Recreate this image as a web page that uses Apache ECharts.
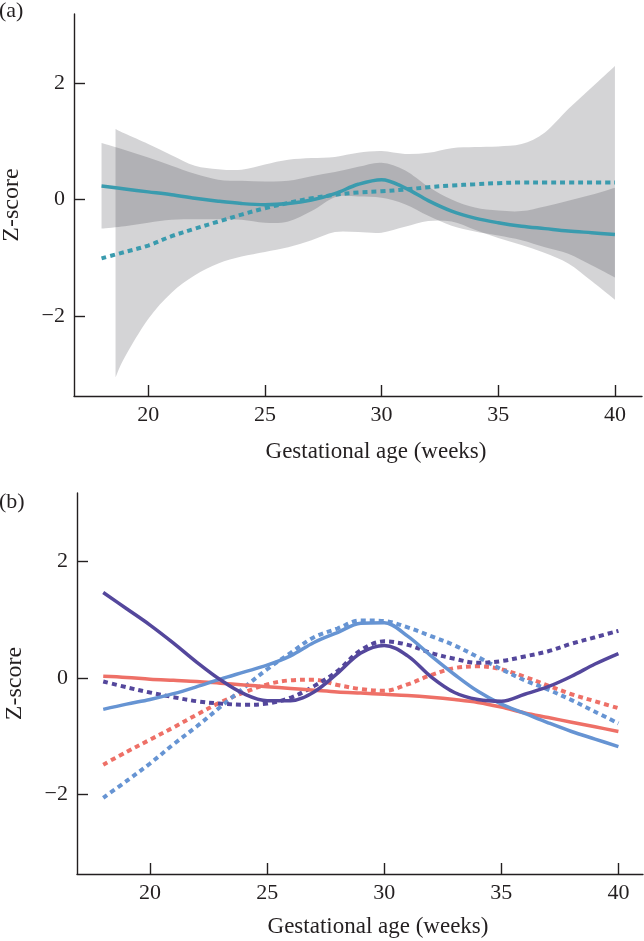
<!DOCTYPE html>
<html>
<head>
<meta charset="utf-8">
<script src="https://cdn.jsdelivr.net/npm/echarts@6/dist/echarts.min.js"></script>
<style>
html,body{margin:0;padding:0;background:#fff;}
#chart{width:644px;height:941px;}
</style>
</head>
<body>
<div id="chart"></div>
<script>
// ---------- DATA ----------
const weeks = [18,19,20,21,22,23,24,25,26,27,28,29,30,31,32,33,34,35,36,37,38,39,40];
const xTicks = [20,25,30,35,40];
const yTicks = [-2,0,2];

// Panel (a)
const aSolid  = [0.23,0.18,0.13,0.08,0.02,-0.03,-0.07,-0.09,-0.07,-0.01,0.10,0.26,0.34,0.20,-0.02,-0.20,-0.32,-0.40,-0.46,-0.50,-0.54,-0.57,-0.60];
const aDotted = [-1.01,-0.90,-0.79,-0.63,-0.50,-0.38,-0.26,-0.15,-0.06,0.02,0.08,0.12,0.14,0.17,0.21,0.24,0.26,0.28,0.29,0.29,0.29,0.29,0.29];

// CI band of solid line (a)
const bandSolidX   = [18,19,20,21,22,23,24,25,26,27,28,29,30,31,32,33,34,35,36,37,38,39,40];
const bandSolidLo  = [-0.50,-0.46,-0.40,-0.35,-0.34,-0.34,-0.35,-0.40,-0.38,-0.20,0.04,0.05,0.03,-0.08,-0.28,-0.45,-0.55,-0.62,-0.70,-0.82,-0.93,-1.13,-1.34];
const bandSolidHi  = [0.97,0.85,0.72,0.58,0.44,0.34,0.32,0.31,0.32,0.40,0.47,0.56,0.63,0.50,0.22,0.00,-0.14,-0.19,-0.20,-0.12,-0.02,0.08,0.20];
// CI band of dotted line (a)
const bandDotX  = [18.6,19,20,21,22,23,24,25,26,27,28,29,30,31,32,33,34,35,36,37,38,39,40];
const bandDotLo = [-3.05,-2.70,-2.05,-1.60,-1.30,-1.10,-0.98,-0.90,-0.82,-0.70,-0.56,-0.56,-0.57,-0.47,-0.37,-0.38,-0.52,-0.66,-0.78,-0.92,-1.10,-1.40,-1.72];
const bandDotHi = [1.21,1.13,0.95,0.76,0.58,0.52,0.51,0.60,0.68,0.71,0.73,0.80,0.83,0.78,0.80,0.88,0.90,0.91,0.95,1.15,1.55,1.92,2.29];

// Panel (b)
const purpleSolid  = [1.47,1.19,0.91,0.60,0.27,-0.03,-0.27,-0.39,-0.39,-0.24,0.08,0.43,0.56,0.38,0.02,-0.25,-0.37,-0.40,-0.28,-0.15,0.03,0.24,0.42];
const purpleDotted = [-0.06,-0.16,-0.25,-0.33,-0.40,-0.44,-0.46,-0.44,-0.34,-0.14,0.12,0.48,0.63,0.57,0.43,0.33,0.26,0.29,0.37,0.46,0.59,0.70,0.81];
const blueSolid    = [-0.54,-0.45,-0.37,-0.27,-0.15,-0.02,0.10,0.22,0.38,0.61,0.78,0.94,0.95,0.72,0.38,0.06,-0.23,-0.45,-0.61,-0.77,-0.92,-1.05,-1.18];
const blueDotted   = [-2.06,-1.77,-1.47,-1.14,-0.83,-0.50,-0.17,0.15,0.43,0.70,0.85,0.99,0.98,0.87,0.72,0.56,0.36,0.15,-0.04,-0.20,-0.38,-0.58,-0.78];
const salmonSolid  = [0.03,0.01,-0.02,-0.04,-0.06,-0.09,-0.12,-0.15,-0.18,-0.21,-0.24,-0.26,-0.28,-0.30,-0.33,-0.37,-0.42,-0.50,-0.60,-0.68,-0.76,-0.84,-0.92];
const salmonDotted = [-1.49,-1.27,-1.06,-0.85,-0.63,-0.42,-0.25,-0.11,-0.04,-0.03,-0.12,-0.19,-0.22,-0.11,0.05,0.17,0.20,0.15,0.02,-0.13,-0.28,-0.40,-0.52];

// ---------- STYLE ----------
const FONT = 'Liberation Serif';
const INK = '#231f20';
const TEAL = '#3a9bae';
const PURPLE = '#54479c';
const BLUE = '#6694d3';
const SALMON = '#ee7067';
const BAND = 'rgba(40,40,48,0.2)';

const pairs = (xs, ys) => xs.map((x, i) => [x, ys[i]]);
const minus = v => (v < 0 ? '\u2212' + Math.abs(v) : String(v));

function xAxisFor(gi, min, max, gap) {
  return {
    type: 'value', gridIndex: gi, min: min, max: max,
    name: 'Gestational age (weeks)', nameLocation: 'middle', nameGap: gap,
    nameTextStyle: {fontFamily: FONT, fontSize: 23, color: INK, padding: [0,0,0,36]},
    axisLine: {show: true, onZero: false, lineStyle: {color: INK, width: 1.4}},
    axisTick: {show: true, inside: true, length: 11, customValues: xTicks, lineStyle: {color: INK, width: 1.4}},
    axisLabel: {show: true, customValues: xTicks, margin: 8, fontFamily: FONT, fontSize: 22, color: INK},
    splitLine: {show: false}
  };
}
function yAxisFor(gi) {
  return {
    type: 'value', gridIndex: gi, min: -3.37, max: 3.18,
    name: 'Z-score', nameLocation: 'middle', nameGap: 50, nameRotate: 90,
    nameTextStyle: {fontFamily: FONT, fontSize: 24, color: INK},
    axisLine: {show: true, onZero: false, lineStyle: {color: INK, width: 1.4}},
    axisTick: {show: true, inside: true, length: 11, customValues: yTicks, lineStyle: {color: INK, width: 1.4}},
    axisLabel: {show: true, customValues: yTicks, margin: 9, fontFamily: FONT, fontSize: 22, color: INK, formatter: minus},
    splitLine: {show: false}
  };
}
function lineS(gi, xs, ys, color, dotted) {
  return {
    type: 'line', xAxisIndex: gi, yAxisIndex: gi, data: pairs(xs, ys),
    showSymbol: false, symbol: 'none', smooth: 0.35, z: 5,
    lineStyle: {color: color, width: dotted ? 4 : 3.5, type: dotted ? [5, 4] : 'solid', cap: 'butt'},
    silent: true
  };
}
// smooth edge through pixel points (Catmull-Rom -> cubic Bezier)
function edgePath(pts, start) {
  let d = (start ? 'M' : 'L') + pts[0][0] + ',' + pts[0][1];
  for (let i = 0; i < pts.length - 1; i++) {
    const p0 = pts[Math.max(i - 1, 0)], p1 = pts[i], p2 = pts[i + 1], p3 = pts[Math.min(i + 2, pts.length - 1)];
    const c1 = [p1[0] + (p2[0] - p0[0]) / 6, p1[1] + (p2[1] - p0[1]) / 6];
    const c2 = [p2[0] - (p3[0] - p1[0]) / 6, p2[1] - (p3[1] - p1[1]) / 6];
    d += 'C' + c1[0] + ',' + c1[1] + ' ' + c2[0] + ',' + c2[1] + ' ' + p2[0] + ',' + p2[1];
  }
  return d;
}
function bandS(xs, lo, hi) {
  return {
    type: 'custom', xAxisIndex: 0, yAxisIndex: 0, z: 2, silent: true,
    data: xs.map((x, i) => [x, lo[i], hi[i]]),
    encode: {x: 0, y: [1, 2]},
    renderItem: function (params, api) {
      if (params.dataIndex !== 0) return null;
      const up = xs.map((x, i) => api.coord([x, hi[i]]));
      const dn = xs.map((x, i) => api.coord([x, lo[i]])).reverse();
      const d = edgePath(up, true) + edgePath(dn, false) + 'Z';
      return {type: 'path', shape: {pathData: d}, style: {fill: BAND, stroke: null}};
    }
  };
}

const option = {
  animation: false,
  backgroundColor: '#fff',
  title: [
    {text: '(a)', left: -1, top: 0, textStyle: {fontFamily: FONT, fontSize: 22, fontWeight: 'normal', color: INK}, padding: 0},
    {text: '(b)', left: -1, top: 491, textStyle: {fontFamily: FONT, fontSize: 22, fontWeight: 'normal', color: INK}, padding: 0}
  ],
  grid: [
    {left: 74, top: 14, width: 568, height: 382, containLabel: false, outerBoundsMode: 'none'},
    {left: 77, top: 493, width: 566, height: 381, containLabel: false, outerBoundsMode: 'none'}
  ],
  xAxis: [xAxisFor(0, 16.82, 41.16, 44), xAxisFor(1, 16.88, 41.05, 41)],
  yAxis: [yAxisFor(0), yAxisFor(1)],
  series: [
    bandS(bandSolidX, bandSolidLo, bandSolidHi),
    bandS(bandDotX, bandDotLo, bandDotHi),
    lineS(0, weeks, aDotted, TEAL, true),
    lineS(0, weeks, aSolid, TEAL, false),
    lineS(1, weeks, salmonDotted, SALMON, true),
    lineS(1, weeks, blueDotted, BLUE, true),
    lineS(1, weeks, purpleDotted, PURPLE, true),
    lineS(1, weeks, salmonSolid, SALMON, false),
    lineS(1, weeks, blueSolid, BLUE, false),
    lineS(1, weeks, purpleSolid, PURPLE, false)
  ]
};
const chart = echarts.init(document.getElementById('chart'), null, {renderer: 'canvas'});
chart.setOption(option);
</script>
</body>
</html>
